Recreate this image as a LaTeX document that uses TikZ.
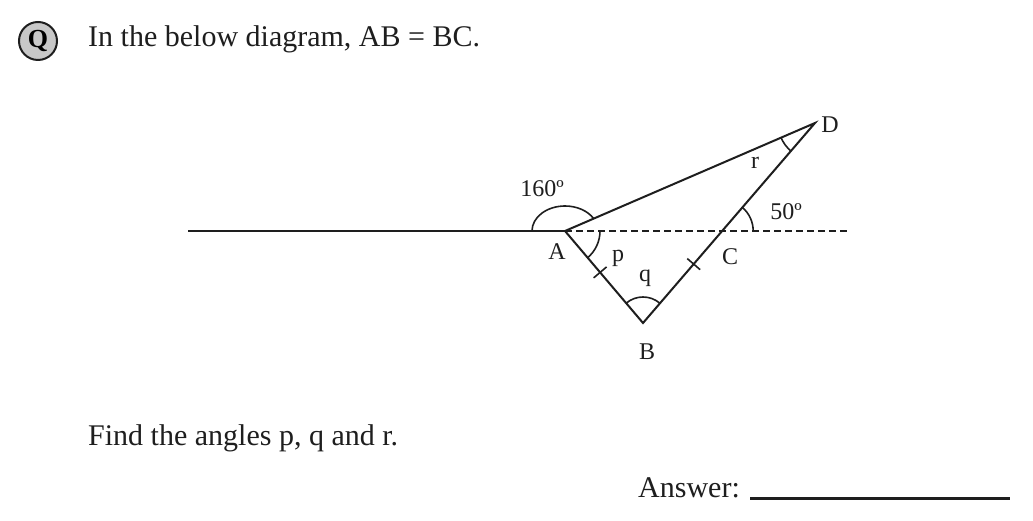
\documentclass[tikz,border=0pt]{standalone}
\usepackage{fontspec}
\setmainfont{Liberation Serif}
\usetikzlibrary{calc}
\definecolor{inkDark}{RGB}{30,30,30}
\definecolor{badgeGray}{RGB}{200,200,200}

\begin{document}
\begin{tikzpicture}[x=1pt,y=1pt,
    geoline/.style={line width=2pt,inkDark},
    anglearc/.style={line width=1.6pt,inkDark},
    ptlabel/.style={font=\fontsize{24}{27}\selectfont,inner sep=0pt,text=inkDark},
    bodytext/.style={font=\fontsize{30}{34}\selectfont,anchor=base west,inner sep=0pt,text=inkDark}]
    \useasboundingbox (0,0) rectangle (1033,521);

    % Question heading
    \node[circle,draw=inkDark,line width=2pt,fill=badgeGray,minimum size=38pt,inner sep=0pt,font=\bfseries\fontsize{26}{26}\selectfont] (badge) at (38,480) {Q};
    \node[bodytext] (question) at (88,474) {In the below diagram, AB = BC.};

    % Points
    \coordinate (L) at (188,290);
    \coordinate (A) at (565,290);
    \coordinate (E) at (850,290);
    \coordinate (B) at (643,198);
    \coordinate (D) at (815,398);
    \coordinate (C) at (intersection of B--D and A--E);

    % Lines
    \draw[geoline] (L) -- (A);
    \draw[geoline,line width=1.6pt,dash pattern=on 7pt off 4pt] (A) -- (E);
    \draw[geoline] (A) -- (B) -- (D) -- cycle;

    % Equal marks
    \coordinate (t1) at ($(A)!0.45!(B)$);
    \coordinate (t2) at ($(B)!0.64!(C)$);
    \draw[anglearc] ($(t1)!8.5pt!90:(B)$) -- ($(t1)!8.5pt!-90:(B)$);
    \draw[anglearc] ($(t2)!8.5pt!90:(C)$) -- ($(t2)!8.5pt!-90:(C)$);

    % Angle arcs
    \draw[anglearc] ([xshift=-33pt]A) arc[start angle=180,end angle=29.7,x radius=33pt,y radius=25pt];
    \draw[anglearc] ([shift={(0:35pt)}]A) arc[start angle=0,end angle=-49.7,radius=35pt];
    \draw[anglearc] ([shift={(49.3:26pt)}]B) arc[start angle=49.3,end angle=130.3,radius=26pt];
    \draw[anglearc] ([shift={(0:31pt)}]C) arc[start angle=0,end angle=49.3,radius=31pt];
    \draw[anglearc] ([shift={(203.4:37pt)}]D) arc[start angle=203.4,end angle=229.3,radius=37pt];

    % Labels
    \node[ptlabel] (lA) at (557,269) {A};
    \node[ptlabel] (lB) at (647,169) {B};
    \node[ptlabel] (lC) at (730,264) {C};
    \node[ptlabel] (lD) at (830,396) {D};
    \node[ptlabel] (lp) at (618,263) {p};
    \node[ptlabel] (lq) at (645,243) {q};
    \node[ptlabel] (lr) at (755,358) {r};
    \node[ptlabel] (l160) at (542,332) {160º};
    \node[ptlabel] (l50) at (786,309) {50º};

    % Task and answer
    \node[bodytext] (task) at (88,75) {Find the angles p, q and r.};
    \node[bodytext] (answer) at (638,23) {Answer:};
    \coordinate (ans1) at (750,22);
    \coordinate (ans2) at (1010,22);
    \draw[inkDark,line width=3pt] (ans1) -- (ans2);
\end{tikzpicture}
\end{document}
